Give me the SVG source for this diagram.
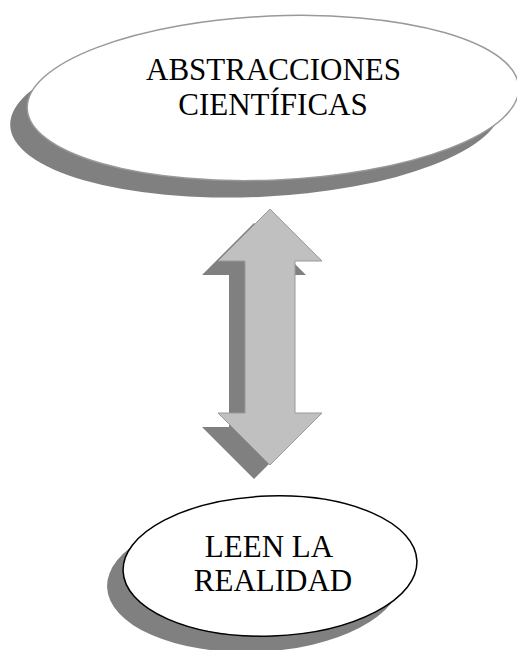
<svg xmlns="http://www.w3.org/2000/svg" width="517" height="650" viewBox="0 0 517 650">
<style>
.shadow{fill:#808080;stroke:none}
.lbl{font-family:"Liberation Serif","Times New Roman",serif;font-size:31px;fill:#000;text-anchor:middle}
</style>
<rect width="517" height="650" fill="#fff"/>
<g id="node-abstracciones">
<ellipse class="shadow" cx="256" cy="115" rx="246" ry="82" transform="rotate(-2.5 256 115)"/>
<ellipse cx="273" cy="98" rx="246" ry="82" fill="#fff" stroke="#999" stroke-width="1.5" transform="rotate(-2.5 273 98)"/>
<text class="lbl" x="273.5" y="80">ABSTRACCIONES</text>
<text class="lbl" x="273" y="115">CIENTÍFICAS</text>
</g>
<g id="connectors">
<polygon class="shadow" points="254,223 306,275 279,275 279,427 306,427 254,479 202,427 229,427 229,275 202,275"/>
<polygon points="270,209 322,261 295,261 295,413 322,413 270,465 218,413 245,413 245,261 218,261" fill="#c0c0c0" stroke="#999" stroke-width="1"/>
</g>
<g id="node-leen">
<ellipse class="shadow" cx="254" cy="582" rx="147" ry="70" transform="rotate(-2 254 582)"/>
<ellipse cx="270" cy="566" rx="147" ry="70" fill="#fff" stroke="#000" stroke-width="1.5" transform="rotate(-2 270 566)"/>
<text class="lbl" x="269" y="557">LEEN LA</text>
<text class="lbl" x="273" y="591">REALIDAD</text>
</g>
</svg>
